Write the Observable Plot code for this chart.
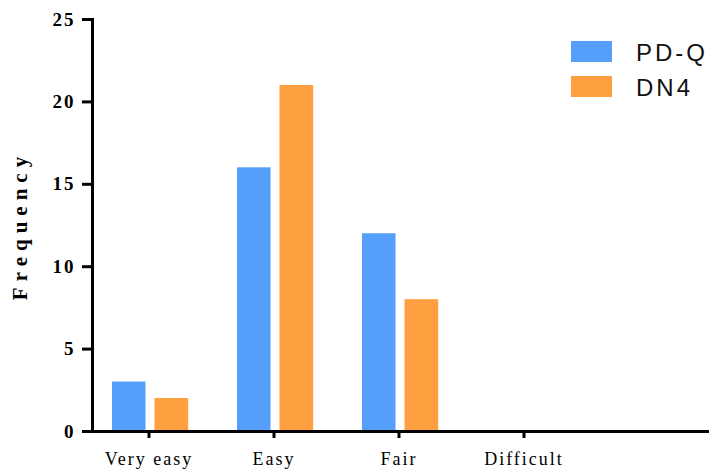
<!DOCTYPE html>
<html>
<head>
<meta charset="utf-8">
<script src="https://cdn.jsdelivr.net/npm/d3@7"></script>
<script src="https://cdn.jsdelivr.net/npm/@observablehq/plot@0.6"></script>
<style>
  html, body { margin: 0; padding: 0; background: #fff; }
  #wrap { position: relative; width: 709px; height: 470px; overflow: hidden; }
  .legend { position: absolute; left: 571px; top: 41px; width: 138px; font-family: "Liberation Sans", Arial, sans-serif; font-size: 24px; letter-spacing: 3px; color: #111; white-space: nowrap; }
  .legend .row { display: flex; align-items: center; height: 21px; margin-bottom: 14px; }
  .legend .sw { width: 41px; height: 21px; margin-right: 24px; flex: none; }
  .legend span { position: relative; top: 1px; }
</style>
</head>
<body>
<div id="wrap"></div>
<script>
const categories = ["Very easy", "Easy", "Fair", "Difficult"];
const seriesNames = ["PD-Q", "DN4"];
const pdqValues = [3, 16, 12, 0];
const dn4Values = [2, 21, 8, 0];
const yTicks = [0, 5, 10, 15, 20, 25];
const colors = ["#559ffb", "#ffa040"];

const pdq = categories.map((c, i) => ({category: c, value: pdqValues[i]}));
const dn4 = categories.map((c, i) => ({category: c, value: dn4Values[i]}));

const chart = Plot.plot({
  width: 709,
  height: 470,
  marginLeft: 92,
  marginRight: 0,
  marginTop: 19,
  marginBottom: 39,
  style: {background: "#fff", overflow: "visible"},
  x: {type: "band", domain: categories, range: [85.5, 585.5], padding: 0},
  y: {domain: [0, 25], ticks: yTicks},
  marks: [
    Plot.barY(pdq, {x: "category", y: "value", fill: colors[0], insetLeft: 26, insetRight: 65.5}),
    Plot.barY(dn4, {x: "category", y: "value", fill: colors[1], insetLeft: 68.5, insetRight: 22.8}),
    Plot.frame({anchor: "left", stroke: "#000", strokeWidth: 3}),
    Plot.ruleY([0], {stroke: "#000", strokeWidth: 3}),
    Plot.axisY({
      ticks: yTicks, tickSize: 10, tickPadding: 7, strokeWidth: 3,
      fontSize: 19, fontWeight: "bold", fontFamily: "Liberation Serif",
      label: "Frequency", labelAnchor: "center", labelArrow: "none", labelOffset: 80
    }),
    Plot.axisX({
      tickSize: 7, tickPadding: 14, strokeWidth: 3,
      fontSize: 18, fontFamily: "Liberation Serif", label: null
    })
  ]
});

const svg = d3.select(chart);
svg.selectAll("[aria-label='y-axis tick label'] text").style("letter-spacing", "2px");
svg.selectAll("[aria-label='x-axis tick label'] text").style("letter-spacing", "2px");
svg.selectAll("[aria-label='y-axis label'] text")
  .style("font-family", "Liberation Serif").style("font-size", "21px")
  .style("font-weight", "bold").style("letter-spacing", "6px");

document.getElementById("wrap").appendChild(chart);

const legend = d3.select("#wrap").append("div").attr("class", "legend");
seriesNames.forEach((s, i) => {
  const row = legend.append("div").attr("class", "row");
  row.append("div").attr("class", "sw").style("background", colors[i]);
  row.append("span").text(s);
});
</script>
</body>
</html>
